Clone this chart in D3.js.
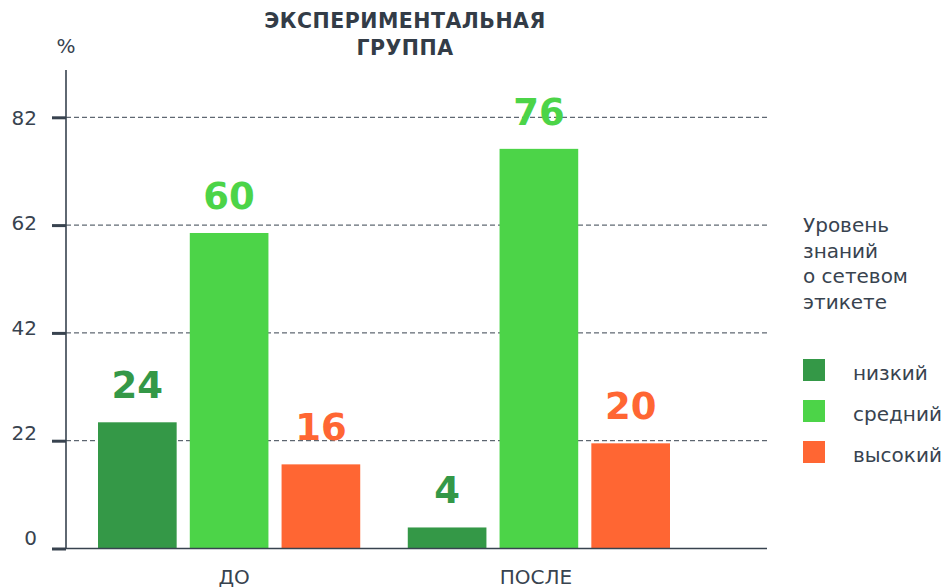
<!DOCTYPE html>
<html>
<head>
<meta charset="utf-8">
<script src="https://cdn.jsdelivr.net/npm/d3@7"></script>
<style>
  body { margin: 0; background: #fff; }
  svg { display: block; font-family: "DejaVu Sans", Verdana, sans-serif; }
</style>
</head>
<body>
<svg id="chart" width="948" height="588"></svg>
<script>
const titleLines = ["ЭКСПЕРИМЕНТАЛЬНАЯ", "ГРУППА"];
const periods = ["ДО", "ПОСЛЕ"];
const levels = ["низкий", "средний", "высокий"];
const lowValues = [24, 4];
const midValues = [60, 76];
const highValues = [16, 20];
const yTickValues = [0, 22, 42, 62, 82];
const legendTitle = ["Уровень", "знаний", "о сетевом", "этикете"];

const colors = { "низкий": "#349847", "средний": "#4cd448", "высокий": "#ff6633" };
const ink = "#38434f";

const rows = periods.map((p, i) => ({
  period: p,
  values: [
    { level: "низкий", value: lowValues[i] },
    { level: "средний", value: midValues[i] },
    { level: "высокий", value: highValues[i] }
  ]
}));

const svg = d3.select("#chart");
const plotL = 66, plotR = 767, plotT = 70, plotB = 548.5;

const yMax = d3.max(yTickValues);
const y = d3.scaleLinear().domain([0, yMax]).range([plotB, 117.3]);

const x0 = d3.scaleBand().domain(periods).range([98, 670]).paddingInner(0.1535).paddingOuter(0);
const x1 = d3.scaleBand().domain(levels).range([0, x0.bandwidth()]).paddingInner(0.143).paddingOuter(0);

// title
svg.append("text")
  .attr("x", 405).attr("y", 28)
  .attr("text-anchor", "middle")
  .attr("font-size", 20.5).attr("font-weight", "bold").attr("fill", "#333c47")
  .attr("letter-spacing", 0.5)
  .selectAll("tspan").data(titleLines).enter().append("tspan")
  .attr("x", 405).attr("dy", (d, i) => i ? 27 : 0)
  .text(d => d);

// the original puts tick marks / grid evenly, labels at their real values
const gridPos = d3.range(yTickValues.length).map(i => yMax * i / (yTickValues.length - 1));
svg.append("g").selectAll("line").data(gridPos.slice(1)).enter().append("line")
  .attr("x1", plotL).attr("x2", plotR)
  .attr("y1", d => y(d)).attr("y2", d => y(d))
  .attr("stroke", ink).attr("stroke-width", 1).attr("stroke-dasharray", "5,3");

// bars
const groups = svg.append("g").selectAll("g").data(rows).enter().append("g")
  .attr("transform", d => `translate(${x0(d.period)},0)`);

groups.selectAll("rect").data(d => d.values).enter().append("rect")
  .attr("x", d => x1(d.level))
  .attr("y", d => y(d.value))
  .attr("width", x1.bandwidth())
  .attr("height", d => plotB - y(d.value))
  .attr("fill", d => colors[d.level]);

groups.selectAll("text").data(d => d.values).enter().append("text")
  .attr("x", d => x1(d.level) + x1.bandwidth() / 2)
  .attr("y", d => y(d.value) - 24)
  .attr("text-anchor", "middle")
  .attr("font-size", 37).attr("font-weight", "bold")
  .attr("fill", d => colors[d.level])
  .text(d => d.value);

// y axis: tick marks
const ticksG = svg.append("g").attr("transform", `translate(${plotL},0)`)
  .call(d3.axisLeft(y).tickValues(gridPos).tickFormat("").tickSize(14));
ticksG.select(".domain").remove();
ticksG.selectAll(".tick line").attr("stroke", ink).attr("stroke-width", 3);

// y axis: labels
const labelsG = svg.append("g").attr("transform", `translate(${plotL},0)`)
  .call(d3.axisLeft(y).tickValues(yTickValues).tickSize(0).tickPadding(29));
labelsG.select(".domain").remove();
labelsG.selectAll(".tick text").attr("fill", ink).attr("font-size", 20)
  .attr("font-family", "DejaVu Sans, Verdana, sans-serif")
  .attr("dy", d => d === 0 ? "-0.18em" : "0.34em");

svg.append("line").attr("x1", plotL).attr("x2", plotL).attr("y1", plotT).attr("y2", plotB)
  .attr("stroke", ink).attr("stroke-width", 1.6);
svg.append("line").attr("x1", plotL).attr("x2", plotR).attr("y1", plotB).attr("y2", plotB)
  .attr("stroke", ink).attr("stroke-width", 1.6);

svg.append("text").attr("x", plotL).attr("y", 53).attr("text-anchor", "middle")
  .attr("font-size", 20).attr("fill", ink).text("%");

// x labels
svg.append("g").selectAll("text").data(periods).enter().append("text")
  .attr("x", (d, i) => x0(d) + x0.bandwidth() / 2 + (i ? -3 : 5))
  .attr("y", 584)
  .attr("text-anchor", "middle")
  .attr("font-size", 20).attr("fill", ink)
  .text(d => d);

// legend
svg.append("text").attr("x", 803).attr("y", 232)
  .attr("font-size", 20).attr("fill", ink)
  .selectAll("tspan").data(legendTitle).enter().append("tspan")
  .attr("x", 803).attr("dy", (d, i) => i ? 25.7 : 0)
  .text(d => d);

const lg = svg.append("g").selectAll("g").data(levels).enter().append("g")
  .attr("transform", (d, i) => `translate(803,${359 + i * 41})`);
lg.append("rect").attr("width", 22).attr("height", 22).attr("fill", d => colors[d]);
lg.append("text").attr("x", 50).attr("y", 21)
  .attr("font-size", 20).attr("fill", ink).text(d => d);
</script>
</body>
</html>
